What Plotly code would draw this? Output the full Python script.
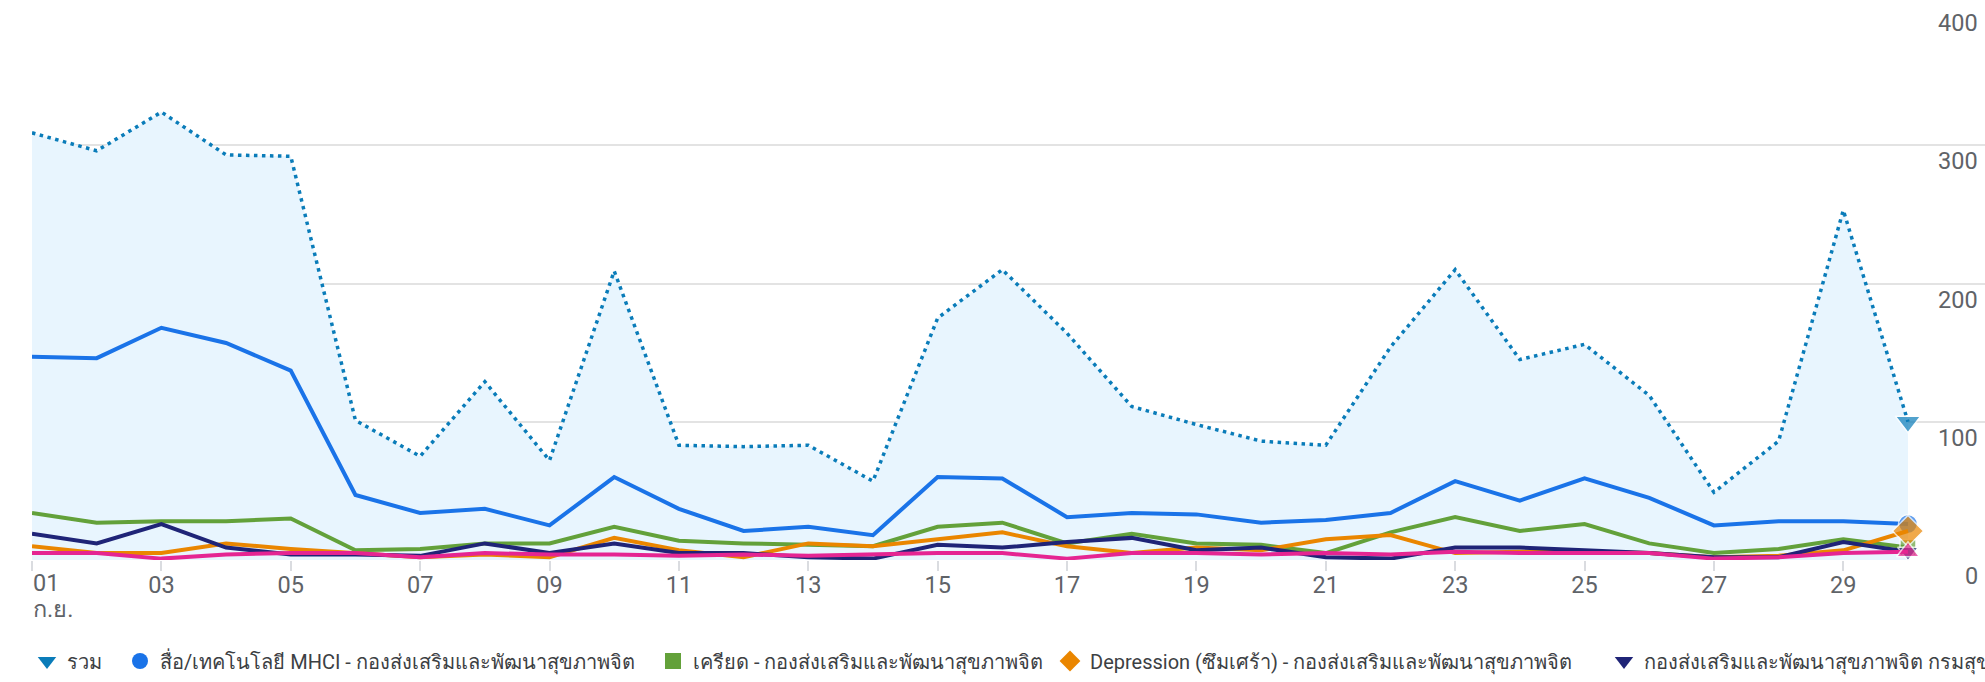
import plotly.graph_objects as go

# ---------------- data ----------------
days = list(range(1, 31))
total = [309, 296, 324, 293, 292, 101, 75, 129, 72, 209, 83, 82, 83, 57, 175,
         210, 164, 111, 98, 86, 83, 154, 210, 145, 156, 119, 49, 86, 253, 100]
mhci = [147, 146, 168, 157, 137, 47, 34, 37, 25, 60, 37, 21, 24, 18, 60,
        59, 31, 34, 33, 27, 29, 34, 57, 43, 59, 45, 25, 28, 28, 26]
stress = [34, 27, 28, 28, 30, 7, 8, 12, 12, 24, 14, 12, 11, 10, 24,
          27, 12, 19, 12, 11, 5, 20, 31, 21, 26, 12, 5, 8, 15, 9]
depression = [10, 5, 5, 12, 8, 5, 2, 4, 2, 16, 7, 2, 12, 10, 15,
              20, 10, 5, 9, 7, 15, 18, 5, 6, 6, 5, 2, 3, 7, 21]
dmh = [19, 12, 26, 9, 4, 4, 3, 12, 5, 12, 5, 5, 2, 1, 11,
       9, 13, 16, 7, 9, 2, 1, 9, 9, 7, 5, 2, 2, 13, 6]
other = [5, 5, 1, 4, 5, 5, 2, 5, 4, 4, 3, 4, 3, 4, 5,
         5, 1, 5, 5, 4, 5, 4, 6, 5, 5, 5, 1, 2, 5, 6]

names = ["รวม",
         "สื่อ/เทคโนโลยี MHCI - กองส่งเสริมและพัฒนาสุขภาพจิต",
         "เครียด - กองส่งเสริมและพัฒนาสุขภาพจิต",
         "Depression (ซึมเศร้า) - กองส่งเสริมและพัฒนาสุขภาพจิต",
         "กองส่งเสริมและพัฒนาสุขภาพจิต กรมสุขภาพจิต",
         "อื่นๆ"]
month_label = "ก.ย."
x_tickvals = list(range(1, 30, 2))
x_ticktext = ["" if d == 1 else f"{d:02d}" for d in x_tickvals]
y_tickvals = [0, 100, 200, 300, 400]
y_ticktext = [str(v) for v in y_tickvals]

# ---------------- style ----------------
FONT = "Roboto, 'Noto Sans', 'DejaVu Sans', sans-serif"
C_TOTAL = "#0a7cb9"
C_FILL = "#e8f5fe"
C_BLUE = "#1a73e8"
C_GREEN = "#63a13a"
C_ORANGE = "#ea8600"
C_NAVY = "#1f2477"
C_PINK = "#e52592"
GRID = "#e3e3e3"
TICKC = "#5f6368"

W, H = 1985, 682
ML, MR, MT, MB = 32, 0, 7, 122
plot_w = W - ML - MR
plot_h = H - MT - MB
day1_px, day30_px = 32.3, 1908.0
px_per_day = (day30_px - day1_px) / 29
x_range_end = 30 + (W - MR - day30_px) / px_per_day
gap_end = 30 + 9 / px_per_day


def px_x(p):
    return (p - ML) / plot_w


def px_y(p):
    return (H - MB - p) / plot_h


n = len(days)


def end_sizes(s):
    return [0] * (n - 1) + [s]


series = [
    (total, C_TOTAL, "triangle-down", 22, dict(dash="3.5px,4.5px", width=3.5)),
    (mhci, C_BLUE, "circle", 19, dict(width=4)),
    (stress, C_GREEN, "square", 16, dict(width=4)),
    (depression, C_ORANGE, "diamond", 24, dict(width=4)),
    (dmh, C_NAVY, "triangle-down", 18, dict(width=4)),
    (other, C_PINK, "triangle-up", 20, dict(width=4)),
]

fig = go.Figure()
for i, (vals, col, sym, sz, line) in enumerate(series):
    kw = {}
    if i == 0:
        kw = dict(fill="tozeroy", fillcolor=C_FILL)
    fig.add_trace(go.Scatter(
        x=days, y=vals, name=names[i], mode="lines+markers",
        line=dict(color=col, **line),
        marker=dict(symbol=sym, color=col, size=end_sizes(sz),
                    line=dict(color="white", width=[0] * (n - 1) + [1.5])),
        showlegend=False, cliponaxis=False, **kw))

# legend entries (marker only), one legend each to keep the single-row layout
legend_centers = [47, 140, 673, 1070, 1624]
legend_keys = ["legend", "legend2", "legend3", "legend4", "legend5"]
for i in range(5):
    vals, col, sym, sz, line = series[i]
    fig.add_trace(go.Scatter(
        x=[None], y=[None], name=names[i], mode="markers",
        marker=dict(symbol=sym, color=col, size=16),
        showlegend=True, legend=legend_keys[i]))

leg_y = px_y(661)
legend_layout = {}
for key, cx in zip(legend_keys, legend_centers):
    legend_layout[key] = dict(
        orientation="h", x=px_x(cx - 20), y=leg_y, xanchor="left",
        yanchor="middle", bgcolor="rgba(0,0,0,0)", borderwidth=0,
        font=dict(family=FONT, size=20, color="#3c4043"),
        itemsizing="trace")

# white gap between the plotted area and the value-label column
shapes = [dict(type="rect", xref="x", yref="paper", x0=30.03, x1=gap_end,
               y0=-0.01, y1=1.01, fillcolor="white", line=dict(width=0),
               layer="between")]

annotations = [
    dict(x=1, y=px_y(583), xref="x", yref="paper", text="01",
         showarrow=False, xanchor="left", yanchor="middle",
         font=dict(family=FONT, size=23.5, color=TICKC), xshift=-1),
    dict(x=1, y=px_y(609), xref="x", yref="paper", text=month_label,
         showarrow=False, xanchor="left", yanchor="middle",
         font=dict(family=FONT, size=23.5, color=TICKC), xshift=-1),
]
# value labels, right-aligned under each gridline
for v, t in zip(y_tickvals, y_ticktext):
    annotations.append(dict(
        x=px_x(1980), y=v, xref="paper", yref="y", text=t, showarrow=False,
        xanchor="right", yanchor="middle", yshift=-16,
        font=dict(family=FONT, size=23.5, color=TICKC)))

fig.update_layout(
    width=W, height=H,
    margin=dict(l=ML, r=MR, t=MT, b=MB, autoexpand=False),
    paper_bgcolor="white", plot_bgcolor="white",
    font=dict(family=FONT),
    xaxis=dict(range=[1, x_range_end],
               tickvals=x_tickvals, ticktext=x_ticktext,
               ticks="outside", ticklen=10, tickcolor="#dadce0", tickwidth=1.5,
               ticklabelstandoff=-6,
               tickfont=dict(family=FONT, size=23.5, color=TICKC),
               showgrid=False, zeroline=False, showline=False, fixedrange=True),
    yaxis=dict(range=[0, 400], tickvals=y_tickvals, side="right",
               showticklabels=False,
               showgrid=True, gridcolor=GRID, gridwidth=1.5,
               zeroline=False, showline=False, ticks="", fixedrange=True),
    shapes=shapes,
    annotations=annotations,
    **legend_layout,
)

fig.write_html("out.html",
               config={"displayModeBar": False},
               post_script="document.body.style.margin='0';"
                           "document.body.style.overflow='hidden';")
